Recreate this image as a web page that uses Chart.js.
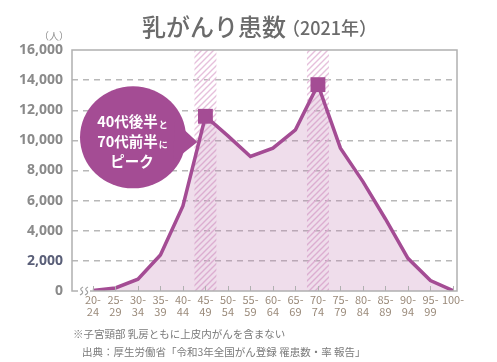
<!DOCTYPE html>
<html lang="ja">
<head>
<meta charset="utf-8">
<script src="https://cdn.jsdelivr.net/npm/chart.js@4/dist/chart.umd.min.js"></script>
<style>
  html, body { margin: 0; padding: 0; background: #fff; }
  #wrap { width: 497px; height: 362px; position: relative; }
  canvas { display: block; }
</style>
</head>
<body>
<div id="wrap"><canvas id="chart" width="497" height="362"></canvas></div>
<script>
const ageGroups = [
  ["20-", "24"], ["25-", "29"], ["30-", "34"], ["35-", "39"], ["40-", "44"],
  ["45-", "49"], ["50-", "54"], ["55-", "59"], ["60-", "64"], ["65-", "69"],
  ["70-", "74"], ["75-", "79"], ["80-", "84"], ["85-", "89"], ["90-", "94"],
  ["95-", "99"], ["100-"]
];
const patients = [30, 200, 780, 2390, 5650, 11600, 10300, 8930, 9480, 10700, 13700, 9480, 7260, 4780, 2170, 690, 30];
const peakIndexes = [5, 10];
const yTicks = [0, 2000, 4000, 6000, 8000, 10000, 12000, 14000, 16000];

const titleMain = "乳がんり患数";
const titleSub = "（2021年）";
const unitLabel = "（人）";
const calloutLines = [["40代後半", "と"], ["70代前半", "に"], ["ピーク", ""]];
const notes = [
  "※子宮頸部 乳房ともに上皮内がんを含まない",
  "出典：厚生労働省「令和3年全国がん登録 罹患数・率 報告」"
];

const PURPLE = "#a44c94";
const JP = '"Noto Sans CJK JP", "Noto Sans", sans-serif';

function hatchPattern(ctx) {
  const c = document.createElement("canvas");
  c.width = 6; c.height = 6;
  const p = c.getContext("2d");
  p.strokeStyle = "#e6c0dc";
  p.lineWidth = 1.4;
  p.beginPath();
  p.moveTo(0, 6); p.lineTo(6, 0);
  p.moveTo(-3, 3); p.lineTo(3, -3);
  p.moveTo(3, 9); p.lineTo(9, 3);
  p.stroke();
  return ctx.createPattern(c, "repeat");
}

const decor = {
  id: "decor",
  beforeDatasetsDraw(chart) {
    const { ctx, chartArea: a, scales: { x } } = chart;
    ctx.save();
    ctx.fillStyle = hatchPattern(ctx);
    peakIndexes.forEach((i) => {
      const px = x.getPixelForValue(i);
      ctx.fillRect(px - 11, a.top, 22, a.bottom - a.top);
    });
    ctx.restore();
  },
  afterDatasetsDraw(chart) {
    const { ctx, chartArea: a, scales: { x, y } } = chart;
    ctx.save();
    // box
    ctx.strokeStyle = "#b0b0b0";
    ctx.lineWidth = 1.5;
    ctx.strokeRect(a.left, a.top, a.right - a.left, a.bottom - a.top);
    // inner ticks on x axis
    ctx.lineWidth = 1;
    ageGroups.forEach((_, i) => {
      const px = Math.round(x.getPixelForValue(i)) + 0.5;
      ctx.beginPath();
      ctx.moveTo(px, a.bottom - 5);
      ctx.lineTo(px, a.bottom);
      ctx.stroke();
    });
    // axis break
    ctx.fillStyle = "#fff";
    ctx.fillRect(a.left + 6, a.bottom - 4, 12, 8);
    ctx.strokeStyle = "#a0a0a0";
    ctx.lineWidth = 1.2;
    [a.left + 9, a.left + 14].forEach((bx) => {
      ctx.beginPath();
      ctx.moveTo(bx + 2, a.bottom - 4);
      ctx.quadraticCurveTo(bx - 2, a.bottom - 2, bx + 1, a.bottom);
      ctx.quadraticCurveTo(bx + 3, a.bottom + 2, bx - 1, a.bottom + 4);
      ctx.stroke();
    });
    // callout
    const cx = a.left + 61, cy = y.getPixelForValue(10200);
    const tipX = x.getPixelForValue(peakIndexes[0]) - 8;
    const tipY = y.getPixelForValue(9900);
    ctx.fillStyle = PURPLE;
    ctx.beginPath();
    ctx.ellipse(cx, cy, 53, 51, 0, 0, Math.PI * 2);
    ctx.fill();
    ctx.beginPath();
    ctx.moveTo(cx + 42, cy - 16);
    ctx.lineTo(tipX, tipY);
    ctx.lineTo(cx + 40, cy + 24);
    ctx.closePath();
    ctx.fill();
    ctx.fillStyle = "#fff";
    ctx.textBaseline = "middle";
    calloutLines.forEach((ln, k) => {
      ctx.font = "bold 14.5px " + JP;
      const w1 = ctx.measureText(ln[0]).width;
      ctx.font = "bold 9px " + JP;
      const w2 = ctx.measureText(ln[1]).width;
      const sx = cx - 1 - (w1 + w2) / 2;
      const ly = cy - 16 + k * 20;
      ctx.font = "bold 14.5px " + JP;
      ctx.textAlign = "left";
      ctx.fillText(ln[0], sx, ly);
      ctx.font = "bold 9px " + JP;
      ctx.fillText(ln[1], sx + w1 + 1, ly + 3);
    });
    ctx.restore();
  },
  afterDraw(chart) {
    const { ctx } = chart;
    ctx.save();
    ctx.fillStyle = "#6b6b6b";
    ctx.textBaseline = "alphabetic";
    ctx.textAlign = "left";
    ctx.font = "500 24px " + JP;
    ctx.fillText(titleMain, 142, 36);
    const w = ctx.measureText(titleMain).width;
    ctx.font = "500 18px " + JP;
    ctx.fillText(titleSub, 142 + w - 4, 35);
    ctx.fillStyle = "#909090";
    ctx.font = "10px " + JP;
    ctx.textAlign = "center";
    ctx.fillText(unitLabel, 54, 40);
    ctx.textAlign = "left";
    ctx.fillStyle = "#7a7a7a";
    ctx.font = "10.5px " + JP;
    ctx.fillText(notes[0], 73, 338);
    ctx.fillText(notes[1], 82, 356);
    ctx.restore();
  }
};

const ctx = document.getElementById("chart");
new Chart(ctx, {
  type: "line",
  data: {
    datasets: [{
      data: patients.map((v, i) => ({ x: i, y: v })),
      borderColor: PURPLE,
      borderWidth: 3.5,
      backgroundColor: "rgba(190, 120, 175, 0.25)",
      fill: "origin",
      tension: 0,
      pointStyle: "rect",
      pointRadius: patients.map((_, i) => (peakIndexes.includes(i) ? 10.5 : 0)),
      pointBackgroundColor: PURPLE,
      pointBorderWidth: 0,
      pointHoverRadius: 0
    }]
  },
  options: {
    responsive: false,
    animation: false,
    devicePixelRatio: 1,
    layout: { padding: { left: 0, top: 50, right: 40, bottom: 0 } },
    plugins: { legend: { display: false }, tooltip: { enabled: false } },
    scales: {
      x: {
        type: "linear",
        min: -0.93,
        max: 16.18,
        afterBuildTicks: (s) => { s.ticks = ageGroups.map((_, i) => ({ value: i })); },
        afterFit: (s) => { s.height = 71; },
        grid: { display: false, drawTicks: false },
        border: { display: false },
        ticks: {
          autoSkip: false,
          maxRotation: 0,
          padding: 3,
          color: "#9a8a7a",
          font: { family: JP, size: 11, lineHeight: 1.05 },
          callback: (v) => ageGroups[v]
        }
      },
      y: {
        min: 0,
        max: 16000,
        afterBuildTicks: (s) => { s.ticks = yTicks.map((v) => ({ value: v })); },
        afterFit: (s) => { s.width = 72; },
        border: { display: false, dash: [6, 5] },
        grid: {
          color: (c) => (c.tick && (c.tick.value === 0 || c.tick.value === 16000) ? "rgba(0,0,0,0)" : "#b8b8b8"),
          lineWidth: 1.5,
          drawTicks: false,
          borderDash: [6, 5]
        },
        ticks: {
          padding: 9,
          color: (c) => (c.tick && c.tick.value === 2000 ? "#5a5f78" : "#8a8a8a"),
          font: { family: '"Open Sans", "Noto Sans", sans-serif', size: 14, weight: "bold" },
          callback: (v) => v.toLocaleString("en-US")
        }
      }
    }
  },
  plugins: [decor]
});
</script>
</body>
</html>
